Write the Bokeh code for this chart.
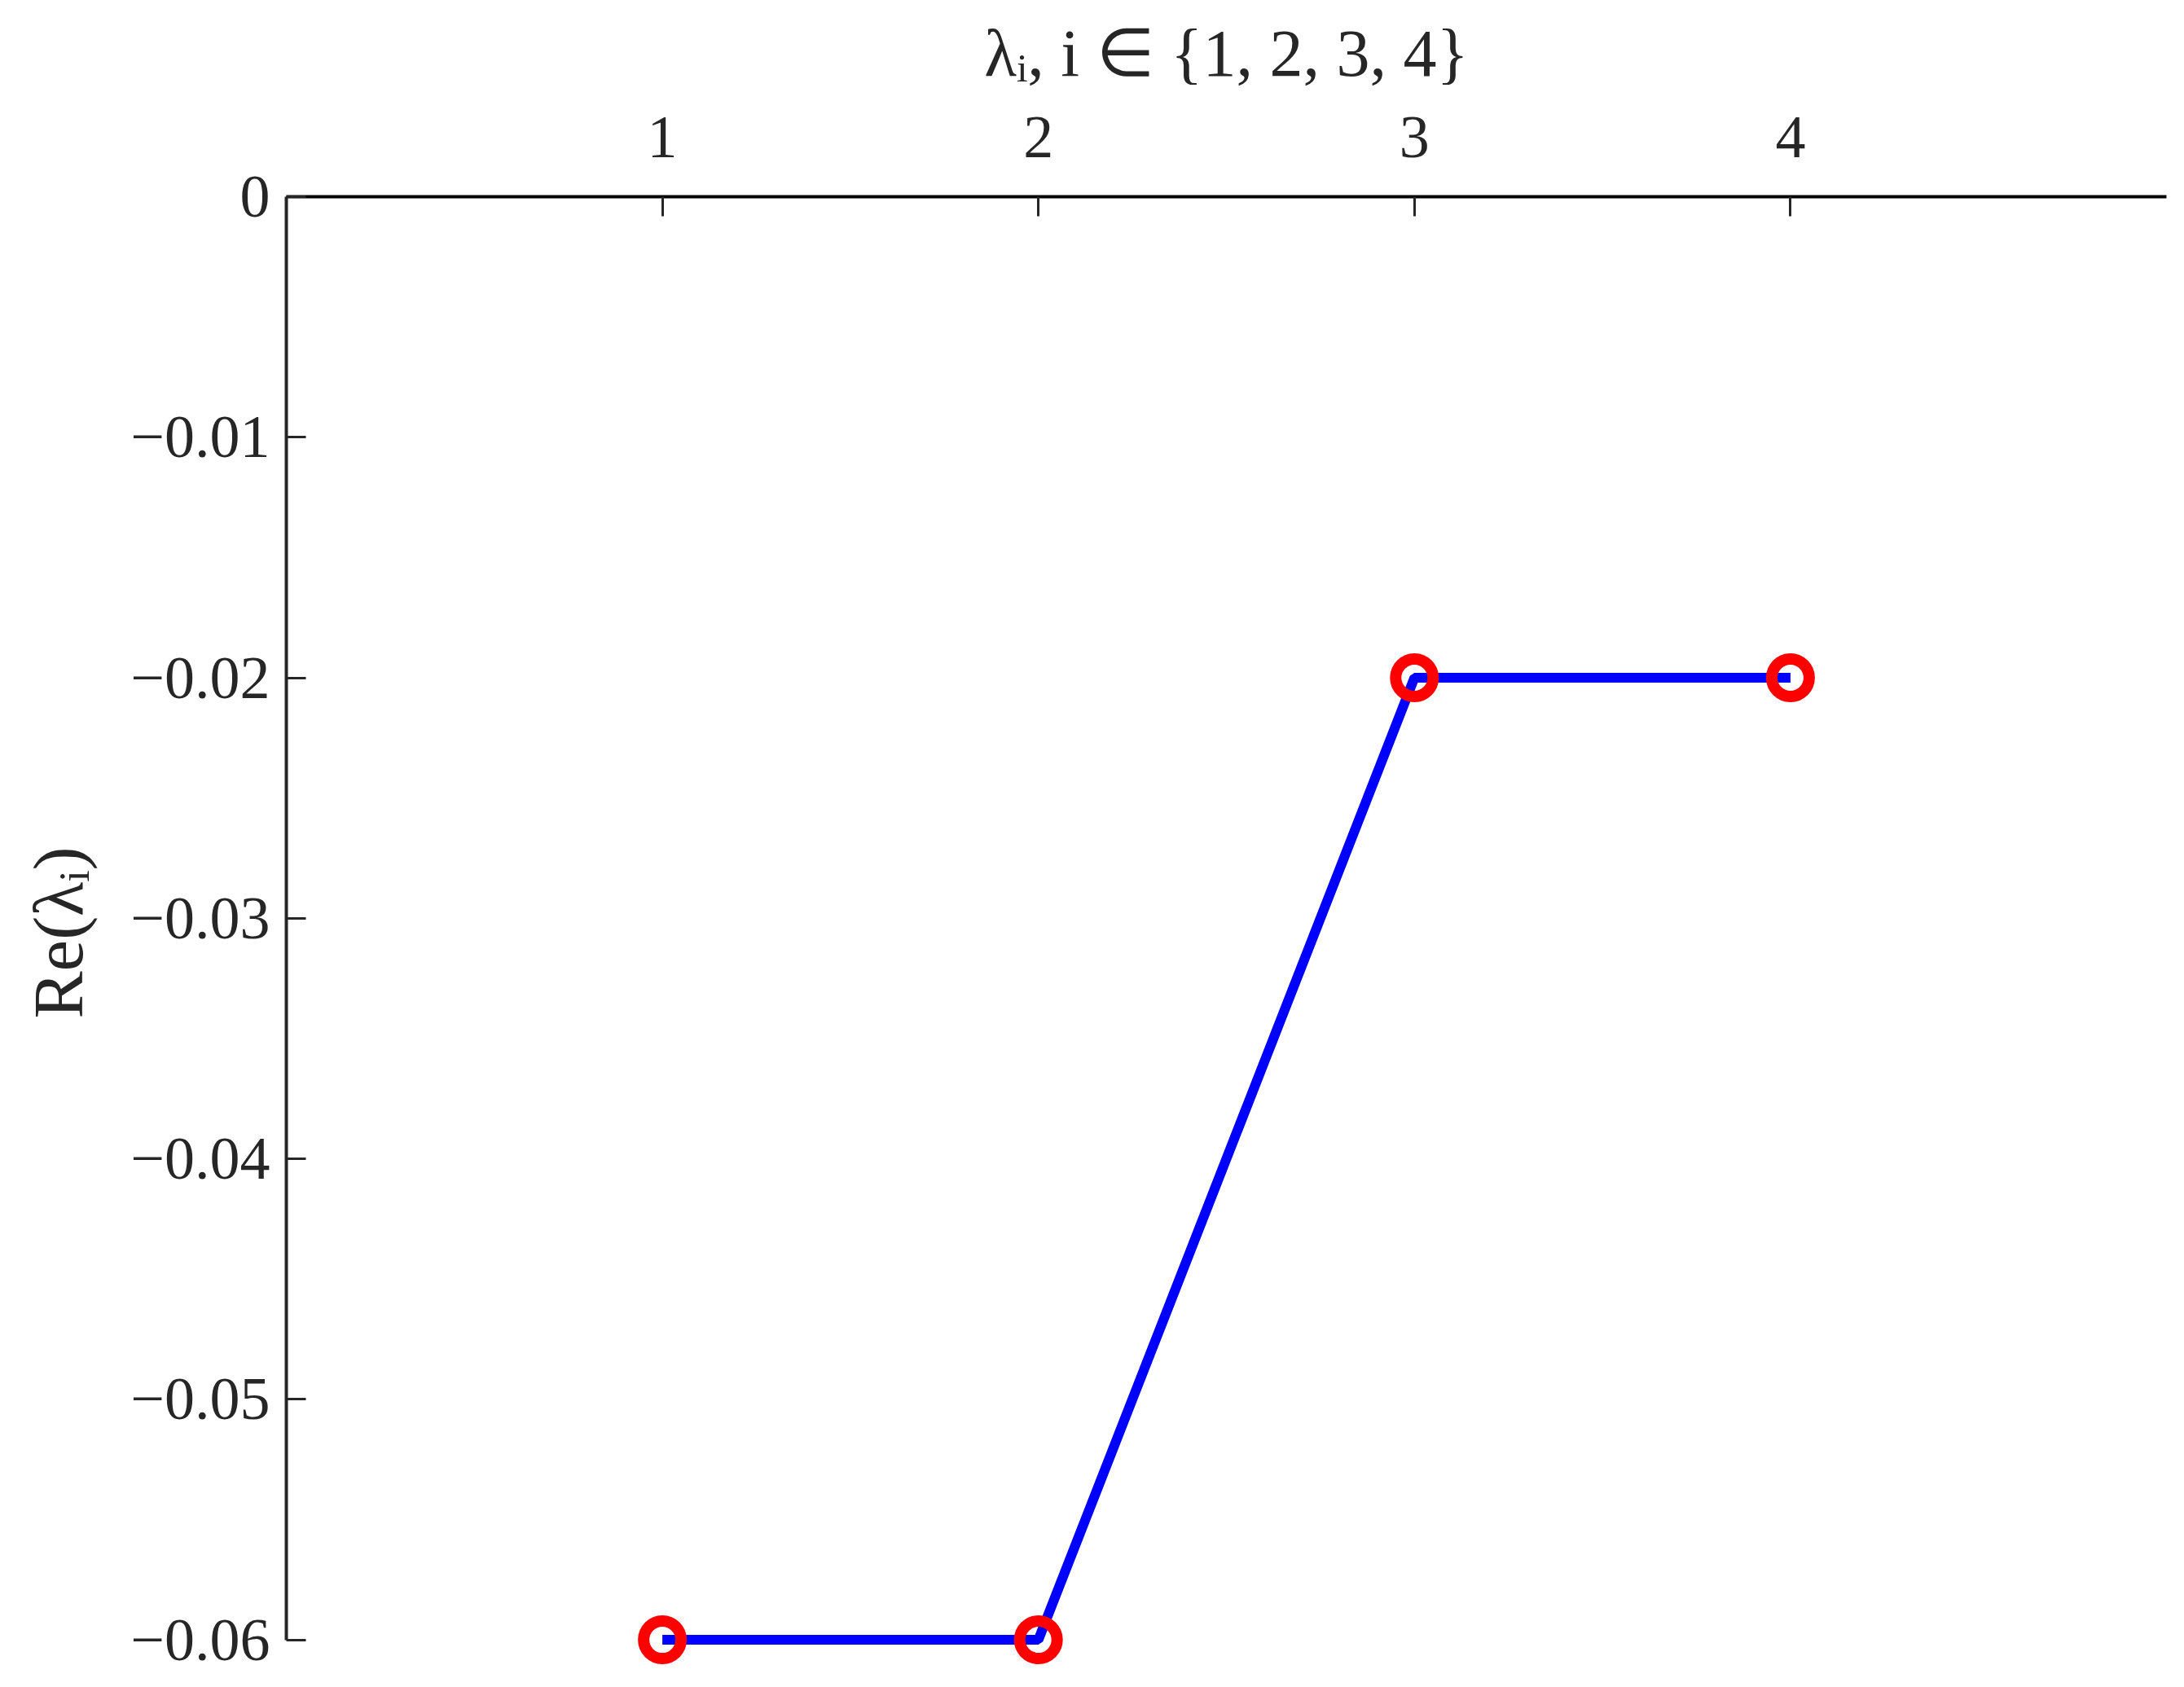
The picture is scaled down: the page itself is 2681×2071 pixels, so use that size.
from bokeh.plotting import figure
from bokeh.models import FixedTicker, Range1d
from bokeh.embed import file_html
from bokeh.resources import INLINE

# data
idx = [1, 2, 3, 4]
re_lambda = [-0.06, -0.06, -0.02, -0.02]
x_ticks = [1, 2, 3, 4]
y_ticks = [0.0, -0.01, -0.02, -0.03, -0.04, -0.05, -0.06]
y_tick_labels = ["0", "\u22120.01", "\u22120.02", "\u22120.03", "\u22120.04", "\u22120.05", "\u22120.06"]
x_label = "\u03bb\u1d62, i \u2208 {1, 2, 3, 4}"
y_label = "Re(\u03bb\u1d62)"

FONT = "Liberation Serif"
TXT = "#262626"

p = figure(width=2673, height=2063, output_backend="svg", toolbar_location=None,
           x_axis_location="above",
           x_range=Range1d(0, 5), y_range=Range1d(-0.0612, 0),
           min_border_left=351, min_border_right=14, min_border_top=241, min_border_bottom=15)
p.outline_line_color = None
p.grid.visible = False
p.background_fill_color = "white"
p.border_fill_color = "white"

p.line(idx, re_lambda, line_color="#0000ff", line_width=12)
p.scatter(idx, re_lambda, marker="circle", size=46, fill_alpha=0,
          line_color="#ff0000", line_width=14)

xa = p.xaxis[0]
xa.ticker = FixedTicker(ticks=x_ticks)
xa.bounds = (0, 5)
xa.axis_line_color = "black"
xa.axis_line_width = 4
xa.major_tick_in = 24
xa.major_tick_out = 0
xa.major_tick_line_width = 3
xa.major_tick_line_color = TXT
xa.minor_tick_line_color = None
xa.major_label_text_font = FONT
xa.major_label_text_font_size = "74px"
xa.major_label_text_color = TXT
xa.major_label_standoff = 49
xa.axis_label = x_label
xa.axis_label_text_font = FONT
xa.axis_label_text_font_size = "82px"
xa.axis_label_text_font_style = "normal"
xa.axis_label_text_color = TXT
xa.axis_label_standoff = 30

ya = p.yaxis[0]
ya.ticker = FixedTicker(ticks=y_ticks)
ya.major_label_overrides = dict(zip(y_ticks, y_tick_labels))
ya.bounds = (-0.06, 0)
ya.axis_line_color = TXT
ya.axis_line_width = 4
ya.major_tick_in = 24
ya.major_tick_out = 0
ya.major_tick_line_width = 3
ya.major_tick_line_color = TXT
ya.minor_tick_line_color = None
ya.major_label_text_font = FONT
ya.major_label_text_font_size = "74px"
ya.major_label_text_color = TXT
ya.major_label_standoff = 20
ya.axis_label = y_label
ya.axis_label_text_font = FONT
ya.axis_label_text_font_size = "87px"
ya.axis_label_text_font_style = "normal"
ya.axis_label_text_color = TXT
ya.axis_label_standoff = 37

open("out.html", "w").write(file_html(p, INLINE))
